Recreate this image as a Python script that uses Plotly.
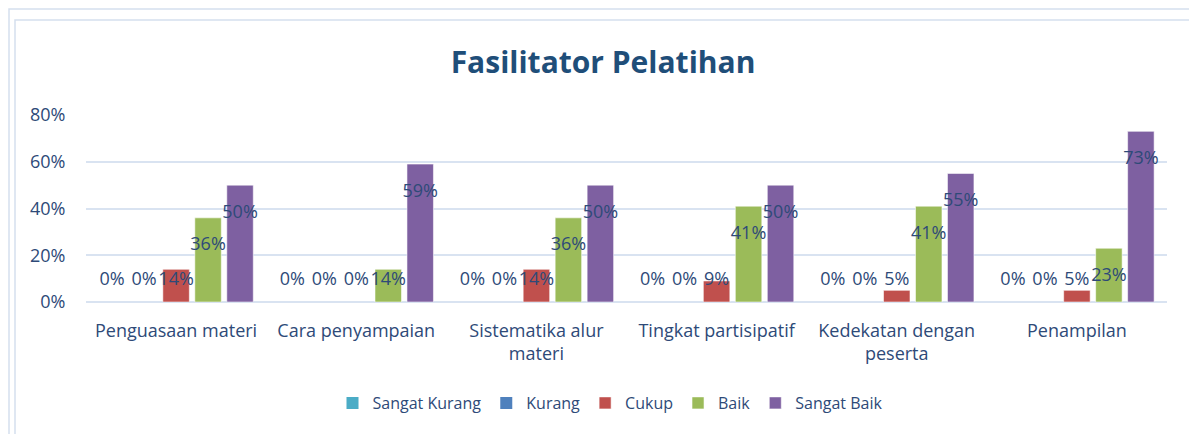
import plotly.graph_objects as go

categories = ["Penguasaan materi", "Cara penyampaian", "Sistematika alur<br>materi",
              "Tingkat partisipatif", "Kedekatan dengan<br>peserta", "Penampilan"]
series_names = ["Sangat Kurang", "Kurang", "Cukup", "Baik", "Sangat Baik"]
sangat_kurang = [0, 0, 0, 0, 0, 0]
kurang = [0, 0, 0, 0, 0, 0]
cukup = [14, 0, 14, 9, 5, 5]
baik = [36, 14, 36, 41, 41, 23]
sangat_baik = [50, 59, 50, 50, 55, 73]
y_ticks = [0, 20, 40, 60, 80]

series_values = [sangat_kurang, kurang, cukup, baik, sangat_baik]
colors = ["#4BACC6", "#4F81BD", "#C0504D", "#9BBB59", "#7E60A1"]

TXT = "#2E4A78"
FONT = "'Open Sans', sans-serif"

# page body has an 8px margin; work in screen pixels and convert
OFF = 8
W, H = 1197 - OFF, 434 - OFF
L, R, T, B = 86 - OFF, 1167 - OFF, 115 - OFF, 302 - OFF
step = 0.1775
bar_w = 0.147

fig = go.Figure()
n = len(categories)
for k, (name, vals, col) in enumerate(zip(series_names, series_values, colors)):
    xs = [i + (k - 2) * step for i in range(n)]
    fig.add_trace(go.Bar(
        x=xs, y=vals, width=bar_w, name=name,
        marker=dict(color=col,
                    line=dict(color="rgba(255,255,255,0.55)",
                              width=[1 if v > 0 else 0 for v in vals])),
        hoverinfo="skip",
    ))
for k, (name, vals) in enumerate(zip(series_names, series_values)):
    xs = [i + (k - 2) * step for i in range(n)]
    ys = [max(v - 12, 9.2) for v in vals]
    fig.add_trace(go.Scatter(
        x=xs, y=ys, mode="text", text=[f"{v}%" for v in vals],
        textfont=dict(family=FONT, size=18, color=TXT),
        showlegend=False, hoverinfo="skip",
    ))

def px_x(p):
    return (p - OFF - L) / (R - L)

def px_y(p):
    return (B - (p - OFF)) / (B - T)

border = "#D5DFEE"
fig.add_shape(type="rect", xref="paper", yref="paper",
              x0=px_x(9), x1=px_x(1230), y0=px_y(470), y1=px_y(9),
              line=dict(color=border, width=1.5), fillcolor="rgba(0,0,0,0)", layer="below")
fig.add_shape(type="rect", xref="paper", yref="paper",
              x0=px_x(15), x1=px_x(1193), y0=px_y(470), y1=px_y(20),
              line=dict(color=border, width=1.5), fillcolor="rgba(0,0,0,0)", layer="below")

fig.update_layout(
    width=W, height=H,
    margin=dict(l=L, r=W - R, t=T, b=H - B),
    paper_bgcolor="white", plot_bgcolor="white",
    barmode="overlay",
    font=dict(family=FONT, size=18, color=TXT),
    title=dict(text="<b>Fasilitator Pelatihan</b>", x=(603 - OFF) / W, y=1 - (62 - OFF) / H,
               xref="container", yref="container", xanchor="center", yanchor="middle",
               font=dict(family=FONT, size=30, color="#1F4E79")),
    xaxis=dict(range=[-0.5, n - 0.5], tickvals=list(range(n)), ticktext=categories,
               showgrid=False, zeroline=False, showline=False,
               ticks="outside", ticklen=12, tickcolor="rgba(0,0,0,0)",
               tickfont=dict(family=FONT, size=18, color=TXT), tickangle=0),
    yaxis=dict(range=[0, 80], tickvals=y_ticks, ticktext=[f"{t}%" for t in y_ticks],
               showgrid=True, gridcolor="#D9E3F1", gridwidth=1.5,
               zeroline=True, zerolinecolor="#D9E3F1", zerolinewidth=1.5,
               showline=False, ticks="outside", ticklen=16, tickcolor="rgba(0,0,0,0)",
               tickfont=dict(family=FONT, size=18, color=TXT)),
    legend=dict(orientation="h", xref="container", yref="container",
                x=(610 - OFF) / W, y=1 - (403 - OFF) / H, xanchor="center", yanchor="middle",
                font=dict(family=FONT, size=16, color=TXT), itemwidth=30,
                bgcolor="rgba(0,0,0,0)"),
    showlegend=True,
)

fig.write_html("out.html")
